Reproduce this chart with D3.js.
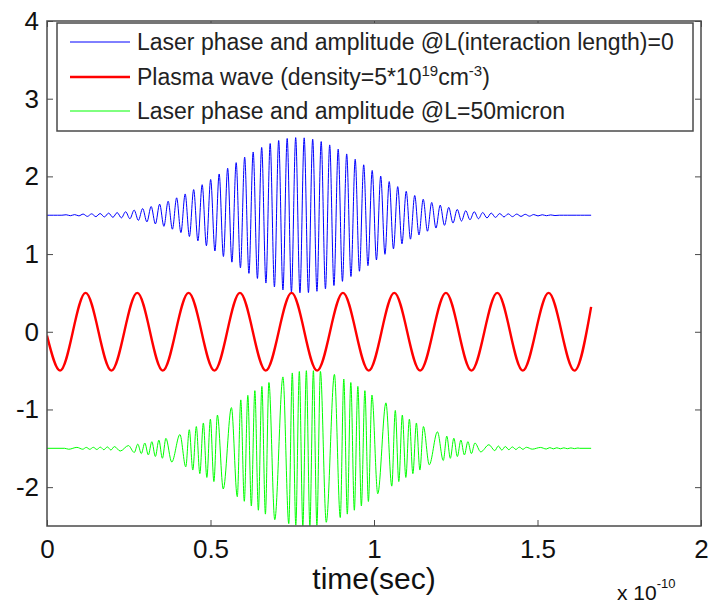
<!DOCTYPE html>
<html><head><meta charset="utf-8">
<script src="https://cdn.jsdelivr.net/npm/d3@7"></script>
<style>
body{margin:0;background:#fff}
svg{display:block}
text{font-family:"Liberation Sans",Arial,Helvetica,sans-serif}
</style>
</head><body>
<svg id="chart" width="709" height="607"></svg>
<script>
// ---------- data ----------
const xTickValues = [0, 0.5, 1, 1.5, 2];
const yTickValues = [-2, -1, 0, 1, 2, 3, 4];
const xLabel = "time(sec)";
const xExponent = "-10";
const seriesColors = ["#0000ff", "#ff0000", "#00ff00"];
const tEnd = 1.664;

// Laser @ L=0 : centre line and peak amplitude of each carrier cycle
const blueCenter = 1.5;
const blueCycle = 0.026;
const blueAmp = [0, 0, 0.006, 0.008, 0.015, 0.018, 0.022, 0.027, 0.034, 0.045,
  0.066, 0.086, 0.112, 0.143, 0.180, 0.224, 0.274, 0.330, 0.393, 0.460,
  0.531, 0.604, 0.677, 0.748, 0.814, 0.873, 0.923, 0.962, 0.988, 0.999,
  0.996, 0.979, 0.948, 0.905, 0.851, 0.789, 0.721, 0.649, 0.576, 0.503,
  0.433, 0.368, 0.308, 0.254, 0.206, 0.165, 0.130, 0.101, 0.075, 0.058,
  0.045, 0.035, 0.028, 0.022, 0.018, 0.015, 0.012, 0.009, 0.006, 0.004,
  0, 0, 0, 0];

// Plasma wave : extremes (time, value)
const plasmaT = [0, 0.040, 0.118, 0.197, 0.276, 0.354, 0.433, 0.512, 0.590, 0.669,
  0.748, 0.826, 0.905, 0.984, 1.062, 1.141, 1.220, 1.298, 1.377, 1.455, 1.534, 1.613, 1.664];
const plasmaV = [-0.05, -0.5, 0.5, -0.5, 0.5, -0.5, 0.5, -0.5, 0.5, -0.5,
  0.5, -0.5, 0.5, -0.5, 0.5, -0.5, 0.5, -0.5, 0.5, -0.5, 0.5, -0.5, 0.32];

// Laser @ L=50 micron : cycle durations (wide / compressed cycles) and amplitudes
const greenCenter = -1.5;
const greenStart = 0.054;
const greenDur = [
  0.05, 0.0215, 0.0215, 0.0215, 0.0215, 0.0215,
  0.05, 0.0215, 0.0215, 0.0215, 0.0215, 0.0215,
  0.05, 0.0215, 0.0215, 0.0215, 0.0215, 0.0215,
  0.05, 0.0215, 0.0215, 0.0215, 0.0215, 0.0215,
  0.05, 0.0215, 0.0215, 0.0215, 0.0215, 0.0215,
  0.05, 0.0215, 0.0215, 0.0215, 0.0215, 0.0215,
  0.05, 0.0215, 0.0215, 0.0215, 0.0215, 0.0215,
  0.05, 0.0215, 0.0215, 0.0215, 0.0215, 0.0215,
  0.05, 0.0215, 0.0215, 0.0215, 0.0215, 0.0215,
  0.05, 0.0215, 0.0215, 0.0215, 0.0215, 0.0215];
const greenAmp = [
  0.012, 0.012, 0.013, 0.015, 0.018, 0.022,
  0.035, 0.054, 0.068, 0.085, 0.105, 0.128,
  0.177, 0.239, 0.280, 0.326, 0.375, 0.428,
  0.524, 0.623, 0.682, 0.742, 0.797, 0.847,
  0.919, 0.970, 0.989, 0.999, 0.999, 0.990,
  0.952, 0.892, 0.847, 0.797, 0.742, 0.685,
  0.585, 0.487, 0.428, 0.375, 0.326, 0.280,
  0.212, 0.157, 0.129, 0.106, 0.085, 0.068,
  0.046, 0.030, 0.023, 0.018, 0.015, 0.013,
  0.011, 0.009, 0.007, 0.006, 0.005, 0.004];

// ---------- layout ----------
const svg = d3.select("#chart");
const m = {left: 47, right: 701, top: 21, bottom: 526};
const x = d3.scaleLinear().domain([0, 2]).range([m.left, m.right]);
const y = d3.scaleLinear().domain([-2.5, 4]).range([m.bottom, m.top]);
const axisColor = "#4a4a4a";

svg.append("rect").attr("width", 709).attr("height", 607).attr("fill", "#fff");

svg.append("defs").append("clipPath").attr("id", "clip")
  .append("rect").attr("x", m.left).attr("y", m.top)
  .attr("width", m.right - m.left).attr("height", m.bottom - m.top);

// ---------- build points ----------
const bluePts = [[0, blueCenter]];
blueAmp.forEach((a, k) => {
  const s = k * blueCycle;
  bluePts.push([s + blueCycle * 0.25, blueCenter + a]);
  bluePts.push([s + blueCycle * 0.75, blueCenter - a]);
});
bluePts.push([tEnd, blueCenter]);

const plasmaPts = plasmaT.map((t, i) => [t, plasmaV[i]]);

const greenPts = [[0, greenCenter], [greenStart, greenCenter]];
let s = greenStart;
greenDur.forEach((d, i) => {
  greenPts.push([s + d * 0.25, greenCenter - greenAmp[i]]);
  greenPts.push([s + d * 0.75, greenCenter + greenAmp[i]]);
  s += d;
});
greenPts.push([s, greenCenter]);
greenPts.push([tEnd, greenCenter]);

const line = d3.line().x(d => x(d[0])).y(d => y(d[1])).curve(d3.curveMonotoneX);

const plot = svg.append("g").attr("clip-path", "url(#clip)");
plot.append("path").datum(bluePts).attr("d", line)
  .attr("fill", "none").attr("stroke", seriesColors[0]).attr("stroke-width", 1);
plot.append("path").datum(plasmaPts).attr("d", line)
  .attr("fill", "none").attr("stroke", seriesColors[1]).attr("stroke-width", 2.4);
plot.append("path").datum(greenPts).attr("d", line)
  .attr("fill", "none").attr("stroke", seriesColors[2]).attr("stroke-width", 1);

// ---------- axes ----------
function styleAxis(g) {
  g.select(".domain").remove();
  g.selectAll(".tick line").attr("stroke", axisColor).attr("stroke-width", 1);
  g.selectAll(".tick text").attr("fill", "#111").style("font-size", "26px")
    .attr("font-family", "'Liberation Sans', Arial, sans-serif");
}
const fmt = d => String(d);
svg.append("g").attr("transform", `translate(${m.left},0)`)
  .call(d3.axisLeft(y).tickValues(yTickValues).tickSizeInner(-6).tickSizeOuter(0).tickPadding(8).tickFormat(fmt))
  .call(styleAxis);
svg.append("g").attr("transform", `translate(${m.right},0)`)
  .call(d3.axisRight(y).tickValues(yTickValues).tickSizeInner(-6).tickSizeOuter(0).tickFormat(""))
  .call(styleAxis);
svg.append("g").attr("transform", `translate(0,${m.bottom})`)
  .call(d3.axisBottom(x).tickValues(xTickValues).tickSizeInner(-6).tickSizeOuter(0).tickPadding(14).tickFormat(fmt))
  .call(styleAxis);
svg.append("g").attr("transform", `translate(0,${m.top})`)
  .call(d3.axisTop(x).tickValues(xTickValues).tickSizeInner(-6).tickSizeOuter(0).tickFormat(""))
  .call(styleAxis);

svg.append("rect").attr("x", m.left).attr("y", m.top)
  .attr("width", m.right - m.left).attr("height", m.bottom - m.top)
  .attr("fill", "none").attr("stroke", axisColor).attr("stroke-width", 1.5);

// axis label + exponent
svg.append("text").attr("x", (m.left + m.right) / 2).attr("y", 589)
  .attr("text-anchor", "middle").style("font-size", "30px").attr("fill", "#111").text(xLabel);
const ex = svg.append("text").attr("x", 617).attr("y", 600).style("font-size", "21px").attr("fill", "#111");
ex.append("tspan").text("x 10");
ex.append("tspan").attr("dy", -12).style("font-size", "13px").text(xExponent);

// ---------- legend ----------
const lg = svg.append("g");
lg.append("rect").attr("x", 57).attr("y", 23).attr("width", 636).attr("height", 108)
  .attr("fill", "#fff").attr("stroke", axisColor).attr("stroke-width", 1.5);
const rowsY = [42, 77, 111];
const lineWidths = [1, 2.4, 1];
rowsY.forEach((ry, i) => {
  lg.append("line").attr("x1", 70).attr("x2", 130).attr("y1", ry).attr("y2", ry)
    .attr("stroke", seriesColors[i]).attr("stroke-width", lineWidths[i]);
});
const legendFont = "23px";
const t1 = lg.append("text").attr("x", 137).attr("y", rowsY[0] + 8).style("font-size", legendFont).attr("fill", "#222");
t1.text("Laser phase and amplitude @L(interaction length)=0");
const t2 = lg.append("text").attr("x", 137).attr("y", rowsY[1] + 8).style("font-size", legendFont).attr("fill", "#222");
t2.append("tspan").text("Plasma wave (density=5*10");
t2.append("tspan").attr("dy", -9).style("font-size", "15px").text("19");
t2.append("tspan").attr("dy", 9).text("cm");
t2.append("tspan").attr("dy", -9).style("font-size", "15px").text("-3");
t2.append("tspan").attr("dy", 9).text(")");
const t3 = lg.append("text").attr("x", 137).attr("y", rowsY[2] + 8).style("font-size", legendFont).attr("fill", "#222");
t3.text("Laser phase and amplitude @L=50micron");
</script>
</body></html>
